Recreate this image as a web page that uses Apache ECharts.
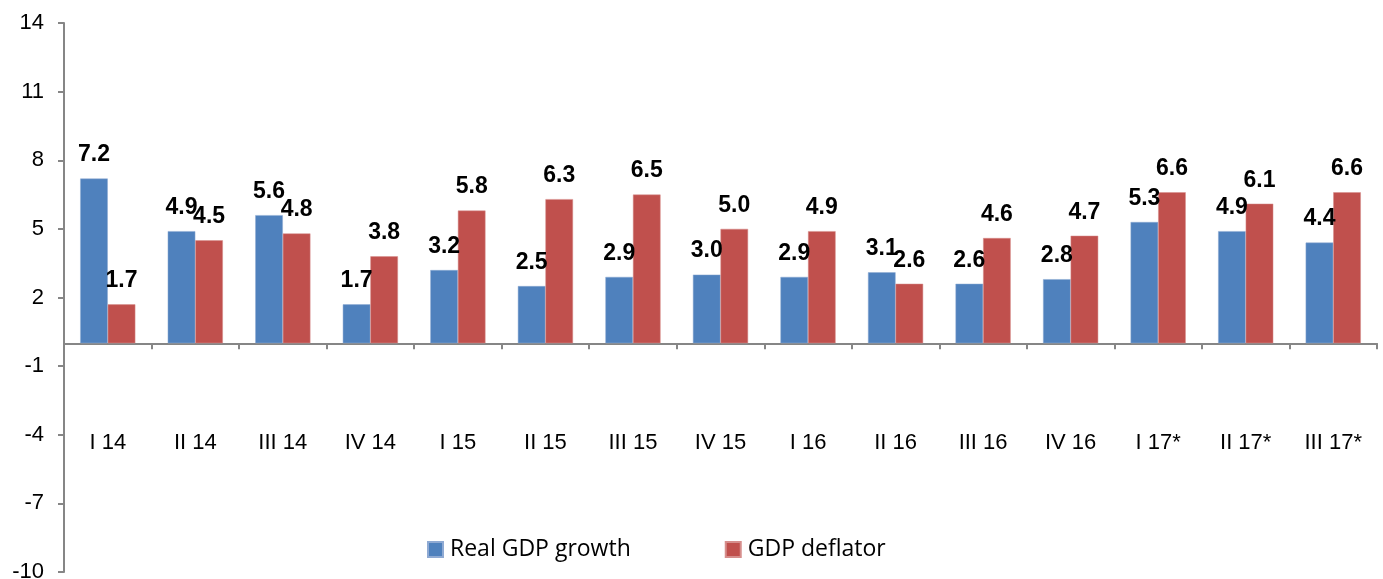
<!DOCTYPE html>
<html><head><meta charset="utf-8">
<script src="https://cdn.jsdelivr.net/npm/echarts@6/dist/echarts.min.js"></script>
<style>html,body{margin:0;padding:0;background:#fff}#c{width:1383px;height:579px}</style>
</head><body><div id="c"></div>
<script>
var categories = ['I 14','II 14','III 14','IV 14','I 15','II 15','III 15','IV 15','I 16','II 16','III 16','IV 16','I 17*','II 17*','III 17*'];
var realGdp = [7.2,4.9,5.6,1.7,3.2,2.5,2.9,3.0,2.9,3.1,2.6,2.8,5.3,4.9,4.4];
var deflator = [1.7,4.5,4.8,3.8,5.8,6.3,6.5,5.0,4.9,2.6,4.6,4.7,6.6,6.1,6.6];
var seriesNames = ['Real GDP growth','GDP deflator'];

var chart = echarts.init(document.getElementById('c'));
var lbl = {show:true, position:'top', distance:12, color:'#000', fontFamily:'Liberation Sans, Arial', fontWeight:'bold', fontSize:23,
  formatter:function(p){return p.value.toFixed(1);}};
chart.setOption({
  animation:false,
  grid:{left:64, right:6, top:23, bottom:7, containLabel:false, outerBoundsMode:'none'},
  legend:{left:422, top:533, itemWidth:15, itemHeight:15, itemGap:94, icon:'rect',
    textStyle:{fontFamily:'Open Sans', fontSize:23, color:'#000', padding:[0,0,0,2]},
    data:seriesNames},
  xAxis:{type:'category', data:categories,
    axisLine:{onZero:true, lineStyle:{color:'#868686', width:2}},
    axisTick:{show:true, length:6, lineStyle:{color:'#868686', width:2}},
    axisLabel:{margin:-140, color:'#000', fontFamily:'Liberation Sans, Arial', fontSize:22}},
  yAxis:{type:'value', min:-10, max:14, interval:3,
    splitLine:{show:false},
    axisLine:{show:true, lineStyle:{color:'#868686', width:2}},
    axisTick:{show:true, length:6, lineStyle:{color:'#868686', width:2}},
    axisLabel:{margin:20, color:'#000', fontFamily:'Liberation Sans, Arial', fontSize:22}},
  series:[
    {name:seriesNames[0], type:'bar', data:realGdp, barGap:'0%', barCategoryGap:'37%',
     itemStyle:{color:'#4F81BD', borderColor:'#8FAAD3', borderWidth:0.5}, label:lbl},
    {name:seriesNames[1], type:'bar', data:deflator, barGap:'0%', barCategoryGap:'37%',
     itemStyle:{color:'#C0504D', borderColor:'#D68E8C', borderWidth:0.5}, label:lbl}
  ]
});
</script></body></html>
